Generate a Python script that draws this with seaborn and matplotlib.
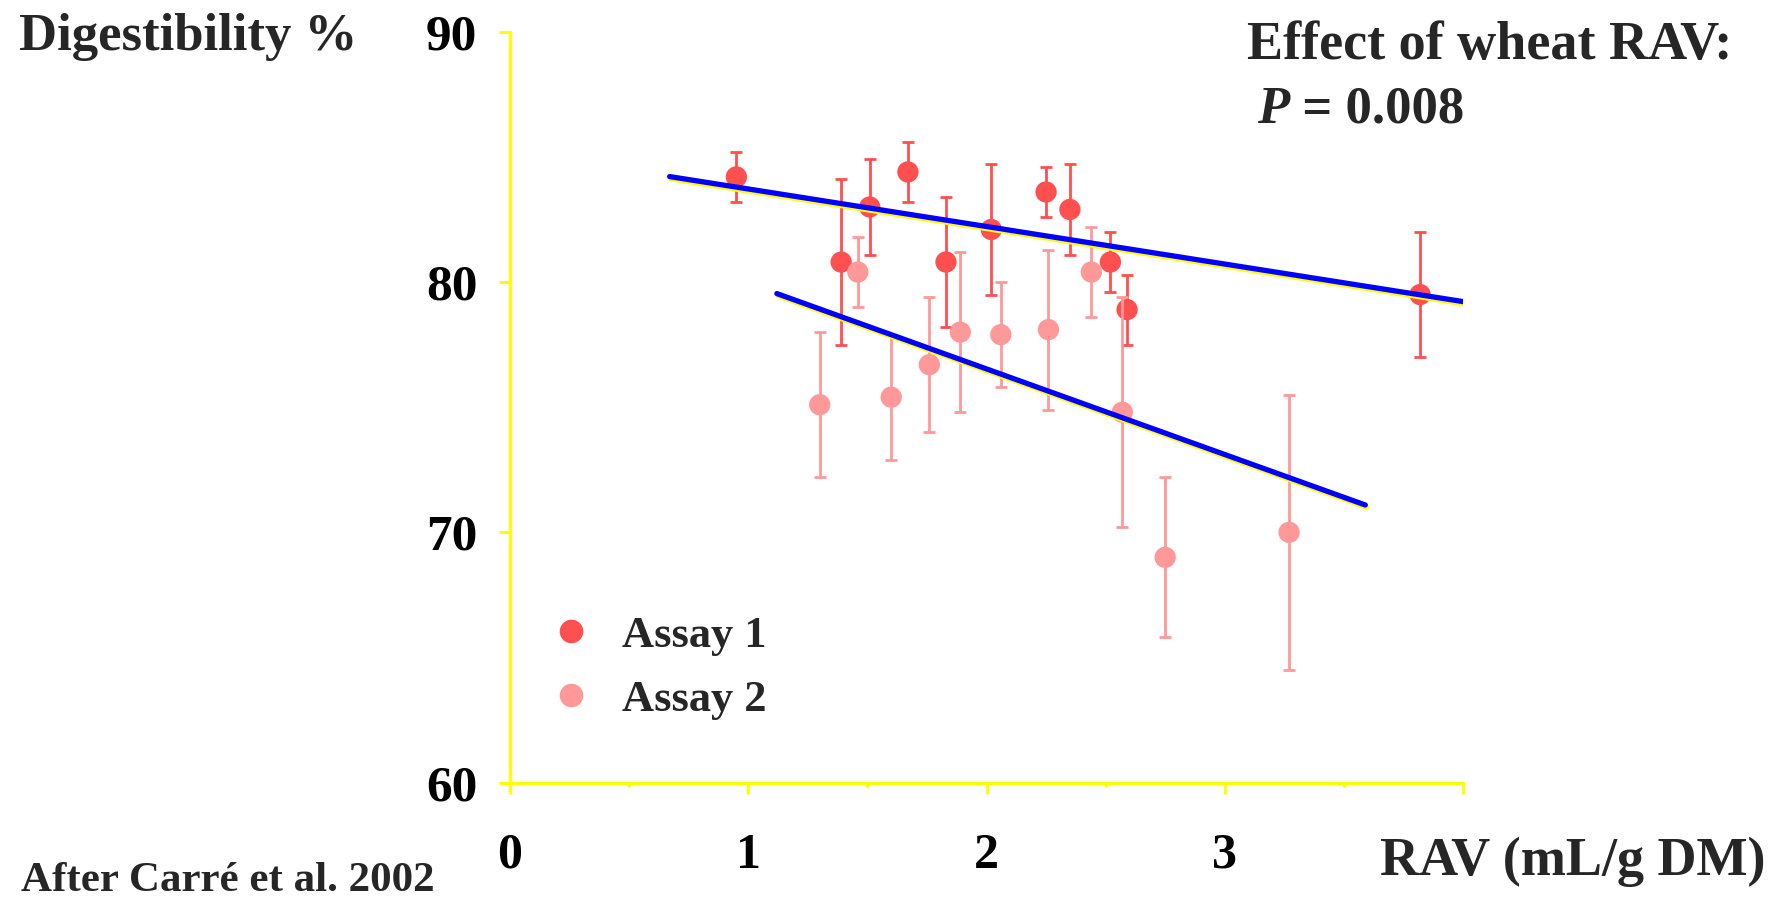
import numpy as np
import pandas as pd
import matplotlib
matplotlib.use("Agg")
import matplotlib.pyplot as plt
import matplotlib.patheffects as pe
from matplotlib.lines import Line2D
from matplotlib.ticker import MultipleLocator
import seaborn as sns

# Assay 1: RAV (mL/g DM), digestibility (%), error (±)
rav_a1 = [0.95, 1.39, 1.51, 1.67, 1.83, 2.02, 2.25, 2.35, 2.52, 2.59, 3.82]
dig_a1 = [84.2, 80.8, 83.0, 84.4, 80.8, 82.1, 83.6, 82.9, 80.8, 78.9, 79.5]
err_a1 = [1.0, 3.3, 1.9, 1.2, 2.6, 2.6, 1.0, 1.8, 1.2, 1.4, 2.5]

# Assay 2
rav_a2 = [1.30, 1.46, 1.60, 1.76, 1.89, 2.06, 2.26, 2.44, 2.57, 2.75, 3.27]
dig_a2 = [75.1, 80.4, 75.4, 76.7, 78.0, 77.9, 78.1, 80.4, 74.8, 69.0, 70.0]
err_a2 = [2.9, 1.4, 2.5, 2.7, 3.2, 2.1, 3.2, 1.8, 4.6, 3.2, 5.5]

# Regression lines for the two assays
fit_intercepts = [85.22, 83.37]
fit_slopes = [-1.50, -3.42]
fit_x_start = [0.67, 1.12]
fit_x_end = [4.00, 3.59]

assay_labels = ["Assay 1", "Assay 2"]
x_ticks = [0, 1, 2, 3, 4]
x_tick_labels = ["0", "1", "2", "3", ""]
y_ticks = [60, 70, 80, 90]

RED = "#FF4F4F"
PINK = "#FF9999"
YELLOW = "#FFFF00"
BLUE = "#0000FF"

sns.set_theme(style="ticks")
plt.rcParams["font.family"] = ["Liberation Serif", "DejaVu Serif"]
plt.rcParams["font.weight"] = "bold"

fig = plt.figure(figsize=(17.81, 8.99), dpi=100)
ax = fig.add_axes([0.28636, 0.12948, 0.53509, 0.83515])

assays = [
    (rav_a1, dig_a1, err_a1, RED),
    (rav_a2, dig_a2, err_a2, PINK),
]
for i, (xs, ys, es, col) in enumerate(assays):
    df = pd.DataFrame({"rav": xs, "dig": ys, "err": es})
    ax.errorbar(df["rav"], df["dig"], yerr=df["err"], fmt="none",
                ecolor=col, elinewidth=2.0, capsize=4, capthick=2.0,
                zorder=2 + 2 * i)
    sns.scatterplot(data=df, x="rav", y="dig", color=col, s=235,
                    edgecolor="none", linewidth=0, legend=False,
                    zorder=3 + 2 * i, ax=ax)

# blue fit lines with a thin yellow drop shadow
shadow = [pe.SimpleLineShadow(offset=(1.0, -1.6), shadow_color=YELLOW,
                              alpha=1.0, rho=1.0), pe.Normal()]
for b0, b1, xa, xb in zip(fit_intercepts, fit_slopes, fit_x_start, fit_x_end):
    fx = np.array([xa, xb])
    line_df = pd.DataFrame({"rav": fx, "dig": b0 + b1 * fx})
    sns.lineplot(data=line_df, x="rav", y="dig", color=BLUE, lw=3.8,
                 estimator=None, sort=False, path_effects=shadow,
                 zorder=10, ax=ax)

ax.set_xlim(0, 4)
ax.set_ylim(60, 90)
ax.set_xticks(x_ticks)
ax.set_xticklabels(x_tick_labels)
ax.xaxis.set_minor_locator(MultipleLocator(0.5))
ax.set_yticks(y_ticks)
ax.set_xlabel("")
ax.set_ylabel("")

sns.despine(ax=ax)
for side in ("left", "bottom"):
    ax.spines[side].set_color(YELLOW)
    ax.spines[side].set_linewidth(2.2)

ax.tick_params(axis="x", which="major", length=8, width=2.2, color=YELLOW,
               pad=28, labelsize=36, labelcolor="black")
ax.tick_params(axis="x", which="minor", length=3, width=2.2, color=YELLOW)
ax.tick_params(axis="y", which="major", length=8, width=2.2, color=YELLOW,
               pad=15.5, labelsize=37, labelcolor="black")
for lab in ax.get_xticklabels() + ax.get_yticklabels():
    lab.set_fontweight("bold")

handles = [Line2D([], [], ls="none", marker="o", markersize=17,
                  markerfacecolor=c, markeredgecolor="none")
           for c in (RED, PINK)]
ax.legend(handles, assay_labels, loc="upper left",
          bbox_to_anchor=(0.041, 0.222), frameon=False, fontsize=32,
          handlelength=1.0, handletextpad=0.65, borderpad=0,
          borderaxespad=0, labelspacing=0.53)

fig.text(0.0107, 0.944, "Digestibility %", fontsize=38, fontweight="bold",
         ha="left", va="baseline")
fig.text(0.0116, 0.0089, "After Carré et al. 2002", fontsize=31,
         fontweight="bold", ha="left", va="baseline")
fig.text(0.7749, 0.0267, "RAV (mL/g DM)", fontsize=39, fontweight="bold",
         ha="left", va="baseline")
fig.text(0.700, 0.934, "Effect of wheat RAV:", fontsize=39,
         fontweight="bold", ha="left", va="baseline")
p_txt = fig.text(0.7056, 0.8635, "P", fontsize=38, fontweight="bold",
                 fontstyle="italic", ha="left", va="baseline")
ax.annotate(" = 0.008", xy=(1, 0), xycoords=p_txt, fontsize=38,
            fontweight="bold", ha="left", va="bottom",
            annotation_clip=False)

fig.savefig("out.png", dpi=100)
